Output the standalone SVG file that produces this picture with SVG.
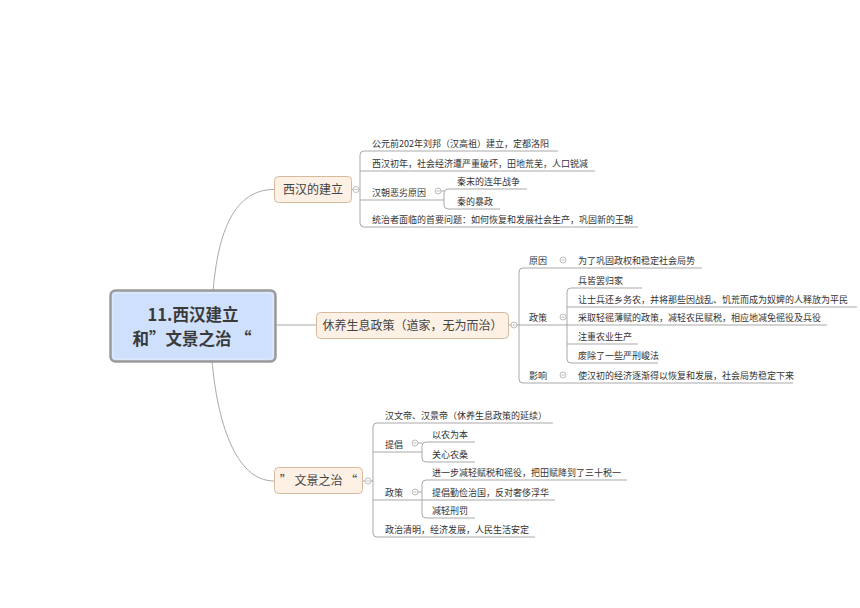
<svg xmlns="http://www.w3.org/2000/svg" width="860" height="608" viewBox="0 0 860 608">
<style>
.ln{fill:none;stroke:#a9a9a9;stroke-width:1}
.t{font-family:"Noto Sans CJK SC","Liberation Sans",sans-serif;font-size:9px;fill:#333}
.t12{font-family:"Noto Sans CJK SC","Liberation Sans",sans-serif;font-size:12px;fill:#444;text-anchor:middle}
.tc{font-family:"Noto Sans CJK SC","Liberation Sans",sans-serif;font-size:16.5px;font-weight:700;fill:#3a3a3a;text-anchor:middle}
.box{fill:#fdf0e4;stroke:#d7b99d;stroke-width:1}
.cb{fill:#fff;stroke:#ababab;stroke-width:0.8}
.cm{stroke:#ababab;stroke-width:0.8}
</style>
<defs>
<g id="btn"><circle class="cb" cx="0" cy="0" r="3"/><line class="cm" x1="-1.6" y1="0" x2="1.6" y2="0"/></g>
</defs>
<rect width="860" height="608" fill="#fff"/>
<g id="connectors">
<path class="ln" d="M213,292 C218,230 235,189.5 274,189.5"/>
<path class="ln" d="M276,325 H316"/>
<path class="ln" d="M212,360 C217,420 235,481 274,481"/>
<path class="ln" d="M352,189.5 H353 M359,189.5 H360"/>
<path class="ln" d="M558,151 H364 Q360,151 360,155 V223 Q360,227 364,227 H638"/>
<path class="ln" d="M360,171 H595"/>
<path class="ln" d="M360,200 H444"/>
<path class="ln" d="M441,191 H444"/>
<path class="ln" d="M527,189 H448 Q444,189 444,193 V205 Q444,209 448,209 H500"/>
<path class="ln" d="M509,325 H511"/>
<path class="ln" d="M702,268 H523 Q519,268 519,272 V379 Q519,383 523,383 H793"/>
<path class="ln" d="M517,325 H827"/>
<path class="ln" d="M642,288 H571 Q567,288 567,292 V359 Q567,363 571,363 H658"/>
<path class="ln" d="M567,307 H857"/>
<path class="ln" d="M567,344 H638"/>
<path class="ln" d="M363,481 H365 M371,481 H373"/>
<path class="ln" d="M553,423 H377 Q373,423 373,427 V533 Q373,537 377,537 H535"/>
<path class="ln" d="M373,452 H422"/>
<path class="ln" d="M418,443 H422"/>
<path class="ln" d="M475,442 H426 Q422,442 422,446 V458 Q422,462 426,462 H475"/>
<path class="ln" d="M373,500 H555"/>
<path class="ln" d="M418,492 H422"/>
<path class="ln" d="M627,480 H426 Q422,480 422,484 V514 Q422,518 426,518 H475"/>
</g>
<g id="central">
<rect x="110.5" y="290.5" width="165" height="71" rx="5" fill="#cfe0fd" stroke="#9a9a9a" stroke-width="2.5"/>
<rect x="113" y="293" width="160" height="66" rx="3.5" fill="none" stroke="#e4ecfb" stroke-width="1"/>
<text class="tc" x="193" y="321">11.西汉建立</text>
<text class="tc" x="192" y="345">和”文景之治 “</text>
</g>
<g id="n-xihan">
<rect class="box" x="274.5" y="176.5" width="77" height="26" rx="4"/>
<text class="t12" x="313" y="194">西汉的建立</text>
<use href="#btn" x="356" y="189.5"/>
</g>
<g id="n-xihan-children">
<text class="t" x="372" y="146.5">公元前202年刘邦（汉高祖）建立，定都洛阳</text>
<text class="t" x="372" y="166.5">西汉初年，社会经济遭严重破坏，田地荒芜，人口锐减</text>
<text class="t" x="372" y="195.5">汉朝恶劣原因</text>
<use href="#btn" x="438" y="191"/>
<text class="t" x="457" y="184.5">秦末的连年战争</text>
<text class="t" x="457" y="204.5">秦的暴政</text>
<text class="t" x="372" y="222.5">统治者面临的首要问题：如何恢复和发展社会生产，巩固新的王朝</text>
</g>
<g id="n-xiuyang">
<rect class="box" x="316.5" y="312.5" width="192" height="26" rx="4"/>
<text class="t12" x="412.5" y="330">休养生息政策（道家，无为而治）</text>
<use href="#btn" x="514" y="325"/>
</g>
<g id="n-xiuyang-children">
<text class="t" x="529" y="263.5">原因</text>
<use href="#btn" x="563" y="260"/>
<text class="t" x="578" y="263.5">为了巩固政权和稳定社会局势</text>
<text class="t" x="529" y="320.5">政策</text>
<use href="#btn" x="563" y="317"/>
<text class="t" x="578" y="283.5">兵皆罢归家</text>
<text class="t" x="578" y="302.5">让士兵还乡务农，并将那些因战乱、饥荒而成为奴婢的人释放为平民</text>
<text class="t" x="578" y="320.5">采取轻徭薄赋的政策，减轻农民赋税，相应地减免徭役及兵役</text>
<text class="t" x="578" y="339.5">注重农业生产</text>
<text class="t" x="578" y="358.5">废除了一些严刑峻法</text>
<text class="t" x="529" y="378.5">影响</text>
<use href="#btn" x="563" y="375"/>
<text class="t" x="578" y="378.5">使汉初的经济逐渐得以恢复和发展，社会局势稳定下来</text>
</g>
<g id="n-wenjing">
<rect class="box" x="274.5" y="467.5" width="88" height="26" rx="4"/>
<text class="t12" x="318.5" y="485">” 文景之治 “</text>
<use href="#btn" x="368" y="481"/>
</g>
<g id="n-wenjing-children">
<text class="t" x="385" y="418.5">汉文帝、汉景帝（休养生息政策的延续）</text>
<text class="t" x="385" y="447.5">提倡</text>
<use href="#btn" x="415" y="443"/>
<text class="t" x="432" y="437.5">以农为本</text>
<text class="t" x="432" y="457.5">关心农桑</text>
<text class="t" x="385" y="495.5">政策</text>
<use href="#btn" x="415" y="492"/>
<text class="t" x="432" y="475.5">进一步减轻赋税和徭役，把田赋降到了三十税一</text>
<text class="t" x="432" y="495.5">提倡勤俭治国，反对奢侈浮华</text>
<text class="t" x="432" y="513.5">减轻刑罚</text>
<text class="t" x="385" y="532.5">政治清明，经济发展，人民生活安定</text>
</g>
</svg>
